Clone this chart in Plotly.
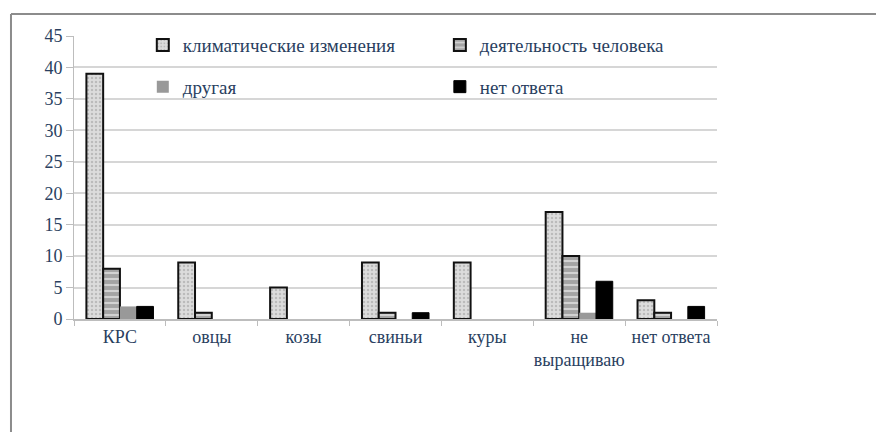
import plotly.graph_objects as go

# Categories (livestock kept) and answer counts per cause
categories = ["КРС", "овцы", "козы", "свиньи", "куры", "не<br>выращиваю", "нет ответа"]
climate = [39, 9, 5, 9, 9, 17, 3]
human = [8, 1, 0, 1, 0, 10, 1]
other = [2, 0, 0, 0, 0, 1, 0]
no_answer = [2, 0, 0, 1, 0, 6, 2]

series_names = ["климатические изменения", "деятельность человека", "другая", "нет ответа"]
y_ticks = [0, 5, 10, 15, 20, 25, 30, 35, 40, 45]

FONT = "Liberation Serif"


def shown(values):
    # zero counts are left out so no outline is drawn on the baseline
    return [v if v else None for v in values]


fig = go.Figure()

fig.add_trace(go.Bar(
    x=categories, y=shown(climate), name=series_names[0],
    legend="legend", legendgroup="a",
    marker=dict(color="#d4d4d4",
                pattern=dict(shape=".", fgcolor="#9a9a9a", bgcolor="#dcdcdc", size=4, solidity=0.3),
                line=dict(color="#111111", width=2)),
))
fig.add_trace(go.Bar(
    x=categories, y=shown(human), name=series_names[1],
    legend="legend2", legendgroup="b",
    marker=dict(color="#a8a8a8",
                pattern=dict(shape="-", fgcolor="#ffffff", bgcolor="#a4a4a4", size=6, solidity=0.35),
                line=dict(color="#111111", width=2)),
))
fig.add_trace(go.Bar(
    x=categories, y=shown(other), name=series_names[2],
    legend="legend", legendgroup="c",
    marker=dict(color="#999999", line=dict(width=0)),
))
fig.add_trace(go.Bar(
    x=categories, y=shown(no_answer), name=series_names[3],
    legend="legend2", legendgroup="d",
    marker=dict(color="#000000", line=dict(color="#000000", width=1)),
))

legend_common = dict(
    font=dict(family=FONT, size=19),
    bgcolor="rgba(0,0,0,0)",
    traceorder="grouped",
    tracegroupgap=14,
    yanchor="top",
    y=1.035,
    xanchor="left",
)

fig.update_layout(
    width=876, height=432,
    margin=dict(l=74, r=159, t=36, b=113),
    paper_bgcolor="#ffffff",
    plot_bgcolor="#ffffff",
    barmode="group",
    bargap=0.27,
    bargroupgap=0,
    font=dict(family=FONT, size=18),
    legend=dict(x=0.107, **legend_common),
    legend2=dict(x=0.569, **legend_common),
    xaxis=dict(
        type="category",
        showline=True, linecolor="#bdbdbd", linewidth=2,
        ticks="outside", tickson="boundaries", ticklen=5, tickcolor="#bdbdbd", tickwidth=1,
        showgrid=False,
        tickangle=0,
        tickfont=dict(family=FONT, size=18),
    ),
    yaxis=dict(
        range=[0, 45],
        tickvals=y_ticks,
        showline=True, linecolor="#bdbdbd", linewidth=1,
        ticks="outside", ticklen=7, tickcolor="#bdbdbd", tickwidth=1,
        showgrid=True, gridcolor="#d6d6d6", gridwidth=2,
        zeroline=False,
        tickfont=dict(family=FONT, size=18),
    ),
    shapes=[
        # outer frame: left and top edges
        dict(type="line", xref="paper", yref="paper", x0=-0.098, x1=-0.098, y0=-0.40, y1=1.0777,
             line=dict(color="#8c8c8c", width=2)),
        dict(type="line", xref="paper", yref="paper", x0=-0.098, x1=1.25, y0=1.0777, y1=1.0777,
             line=dict(color="#8c8c8c", width=2)),
    ],
)

fig.write_html("out.html")
